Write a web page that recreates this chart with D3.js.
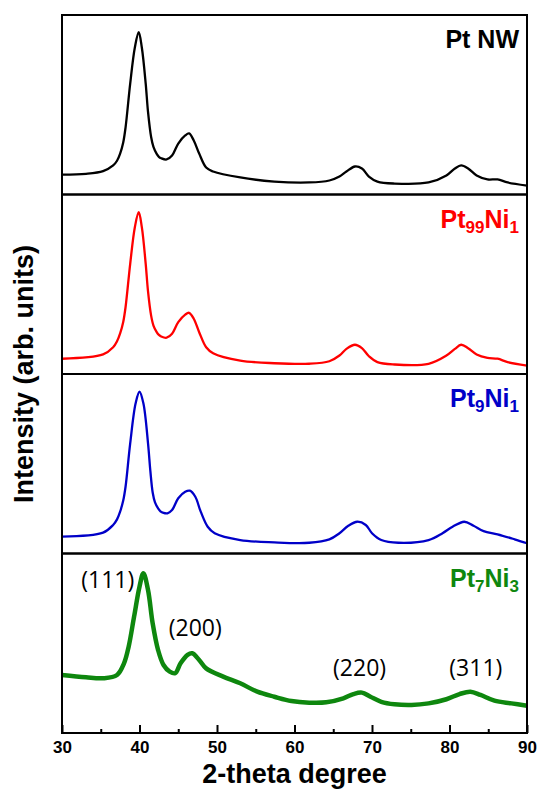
<!DOCTYPE html>
<html>
<head>
<meta charset="utf-8">
<script src="https://cdn.jsdelivr.net/npm/d3@7"></script>
<style>
  body { margin: 0; background: #fff; }
  svg { display: block; }
</style>
</head>
<body>
<div id="chart"></div>
<script>
// XRD patterns, [2-theta, intensity (arb. units, 0-100 per panel)]
const ptNW = [[30,11.1],[33.1,11.5],[35.3,13.0],[36.6,16.2],[37.1,18.8],[37.5,22.8],[37.9,29.0],[38.2,37.3],[38.8,61.8],[39.4,81.9],[39.9,90.4],[40.3,81.9],[40.8,61.8],[41.1,46.0],[41.5,32.0],[41.8,26.5],[42.2,22.8],[42.5,21.0],[42.8,20.2],[43.5,19.5],[44.2,21.7],[45.0,28.4],[45.9,32.9],[46.4,34.0],[47.0,30.1],[47.7,22.8],[48.6,15.0],[49.5,12.8],[53.0,9.5],[57.4,7.2],[61.9,6.7],[64.5,7.8],[65.8,10.0],[66.7,12.8],[67.8,15.6],[68.7,14.5],[69.6,10.0],[70.7,7.2],[72.9,6.1],[77.3,6.7],[79.6,10.6],[80.7,14.5],[81.5,16.2],[82.4,14.5],[83.5,10.6],[84.9,8.4],[86.2,8.4],[87.5,6.7],[90,5.0]];
const pt99Ni1 = [[30,8.5],[35.3,10.9],[36.6,14.9],[37.1,18.2],[37.5,22.6],[37.9,29.0],[38.2,37.2],[38.8,61.4],[39.4,81.8],[39.9,90.1],[40.3,81.8],[40.8,61.4],[41.1,46.0],[41.5,32.5],[41.8,27.0],[42.2,23.5],[42.5,21.8],[42.8,20.9],[43.5,20.2],[44.2,22.4],[45.0,28.9],[45.9,33.1],[46.4,34.1],[47.0,30.8],[47.7,23.3],[48.6,14.9],[49.5,11.6],[53.0,7.5],[57.4,6.0],[61.9,5.7],[64.5,7.1],[65.8,10.3],[66.7,14.0],[67.8,16.3],[68.7,14.4],[69.6,9.9],[70.7,6.6],[72.9,5.3],[77.3,5.7],[79.6,10.3],[80.7,14.0],[81.5,16.3],[82.4,14.4],[83.5,10.9],[84.9,9.0],[86.2,8.5],[87.5,6.6],[90,4.7]];
const pt9Ni1 = [[30,9.4],[35.3,11.6],[36.6,15.9],[37.1,19.0],[37.5,23.3],[37.9,29.5],[38.2,37.2],[38.8,61.4],[39.5,83.7],[40.0,90.1],[40.5,83.7],[41.1,61.4],[41.4,46.0],[41.7,34.0],[42.0,28.5],[42.4,25.2],[42.7,23.5],[43.1,22.6],[43.6,22.4],[44.2,24.2],[45.0,30.8],[45.9,34.4],[46.5,35.0],[47.2,31.6],[47.9,23.3],[48.8,14.9],[49.7,11.3],[53.0,7.5],[57.4,6.2],[61.9,6.0],[64.5,7.9],[65.8,11.3],[66.9,15.3],[68.1,17.7],[69.2,15.9],[70.0,11.3],[71.2,7.5],[73.4,6.0],[77.3,7.5],[79.1,11.3],[80.4,14.9],[81.9,17.7],[83.1,15.5],[84.4,12.5],[86.2,10.7],[88.4,7.9],[90,5.7]];
const pt7Ni3 = [[30,32.3],[33.1,31.0],[35.3,30.5],[37.1,32.3],[38.0,38.8],[38.6,48.1],[39.3,64.8],[40.0,81.5],[40.5,89.0],[41.1,79.7],[41.7,61.1],[42.4,46.2],[43.1,37.9],[43.9,34.2],[44.6,33.3],[45.3,38.8],[46.2,43.5],[46.8,44.4],[47.7,40.7],[48.6,36.0],[50.8,31.4],[53.0,27.7],[55.2,23.0],[57.4,20.2],[59.6,17.8],[61.9,16.9],[64.1,17.1],[66.3,19.3],[67.6,21.7],[68.7,22.5],[69.8,20.2],[71.2,17.4],[72.9,16.0],[75.1,15.6],[77.3,16.5],[79.6,18.8],[81.3,21.7],[82.7,23.0],[84.0,21.2],[85.8,18.0],[88.0,16.5],[90,15.2]];

const sampleNames = [["Pt NW", "", "", ""], ["Pt", "99", "Ni", "1"], ["Pt", "9", "Ni", "1"], ["Pt", "7", "Ni", "3"]];
const sampleColors = ["#000000", "#ff0000", "#0000c8", "#0e870e"];
const sampleData = [ptNW, pt99Ni1, pt9Ni1, pt7Ni3];

const peakLabels = ["(111)", "(200)", "(220)", "(311)"];
const peakPos = [35.9, 47.2, 68.4, 83.4];
const peakLevel = [85.5, 58.5, 36.2, 36.2]; // intensity level of label centre, bottom panel

const xTicks = [30, 40, 50, 60, 70, 80, 90];
const xMinor = [35, 45, 55, 65, 75, 85];

const W = 539, H = 790;
const mLeft = 62, mRight = 527, mTop = 15, mBottom = 733;
const panelH = (mBottom - mTop) / 4;

const svg = d3.select("#chart").append("svg")
  .attr("width", W).attr("height", H);

const x = d3.scaleLinear().domain([30, 90]).range([mLeft, mRight]);

sampleData.forEach((data, i) => {
  const y0 = mTop + i * panelH;
  const y = d3.scaleLinear().domain([0, 100]).range([y0 + panelH, y0]);

  const line = d3.line()
    .x(d => x(d[0]))
    .y(d => y(d[1]))
    .curve(d3.curveCatmullRom.alpha(0.5));

  svg.append("path")
    .datum(data)
    .attr("d", line)
    .attr("fill", "none")
    .attr("stroke", sampleColors[i])
    .attr("stroke-width", i == 3 ? 4.5 : 2.3)
    .attr("stroke-linejoin", "round");

  // sample name
  const nm = sampleNames[i];
  const t = svg.append("text")
    .attr("x", 519)
    .attr("y", y0 + 33)
    .attr("text-anchor", "end")
    .attr("font-family", "Liberation Sans, Arial, sans-serif")
    .attr("font-weight", "bold")
    .attr("font-size", 25)
    .attr("fill", sampleColors[i]);
  t.append("tspan").text(nm[0]);
  if (nm[1]) {
    t.append("tspan").attr("font-size", 17).attr("dy", 5).text(nm[1]);
    t.append("tspan").attr("dy", -5).text(nm[2]);
    t.append("tspan").attr("font-size", 17).attr("dy", 5).text(nm[3]);
  }

  if (i == 3) {
    svg.selectAll(".peak")
      .data(peakLabels)
      .join("text")
      .attr("class", "peak")
      .attr("x", (d, k) => x(peakPos[k]))
      .attr("y", (d, k) => y(peakLevel[k]))
      .attr("dy", "0.35em")
      .attr("text-anchor", "middle")
      .attr("font-family", "Open Sans, Noto Sans, sans-serif")
      .attr("font-size", 23)
      .attr("fill", "#000")
      .text(d => d);
  }

  svg.append("rect")
    .attr("x", mLeft).attr("y", y0)
    .attr("width", mRight - mLeft).attr("height", panelH)
    .attr("fill", "none")
    .attr("stroke", "#000")
    .attr("stroke-width", 2);
});

// bottom axis, ticks pointing inward
const axMajor = svg.append("g")
  .attr("transform", `translate(0,${mBottom})`)
  .call(d3.axisBottom(x).tickValues(xTicks).tickSize(-8).tickSizeOuter(0).tickPadding(8).tickFormat(d3.format("d")));
axMajor.select(".domain").remove();
axMajor.selectAll("line").attr("stroke-width", 2);
axMajor.selectAll("text")
  .attr("y", 20).attr("dy", 0)
  .attr("font-family", "Liberation Sans, Arial, sans-serif")
  .attr("font-weight", "bold")
  .attr("font-size", 17)
  .attr("fill", "#000");

const axMinor = svg.append("g")
  .attr("transform", `translate(0,${mBottom})`)
  .call(d3.axisBottom(x).tickValues(xMinor).tickSize(-4).tickSizeOuter(0).tickFormat(""));
axMinor.select(".domain").remove();
axMinor.selectAll("line").attr("stroke-width", 2);

svg.append("text")
  .attr("x", (mLeft + mRight) / 2)
  .attr("y", 783)
  .attr("text-anchor", "middle")
  .attr("font-family", "Liberation Sans, Arial, sans-serif")
  .attr("font-weight", "bold")
  .attr("font-size", 27)
  .text("2-theta degree");

svg.append("text")
  .attr("transform", `translate(33,${(mTop + mBottom) / 2}) rotate(-90)`)
  .attr("text-anchor", "middle")
  .attr("font-family", "Liberation Sans, Arial, sans-serif")
  .attr("font-weight", "bold")
  .attr("font-size", 27)
  .text("Intensity (arb. units)");
</script>
</body>
</html>
